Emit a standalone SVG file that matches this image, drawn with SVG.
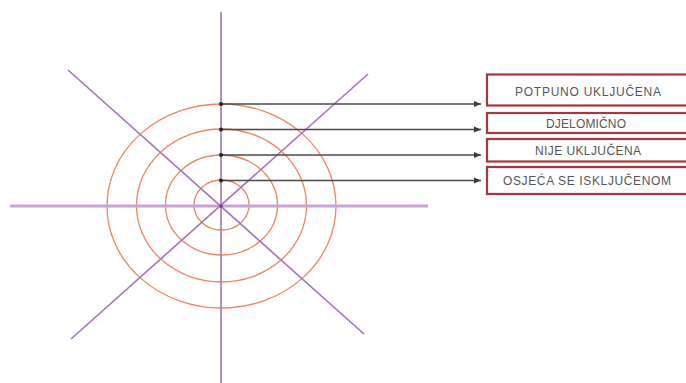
<svg xmlns="http://www.w3.org/2000/svg" width="686" height="383" viewBox="0 0 686 383">
<style>
.axis{stroke:#A673B8;stroke-width:1.6;fill:none}
.axis-h{stroke:#C9A3D3;stroke-width:3;fill:none}
.ring{stroke:#F2845F;stroke-width:1.3;fill:none}
.conn{stroke:#4A4A4A;stroke-width:1.4;fill:none}
.box{fill:#FFFFFF;stroke:#A4393D;stroke-width:2.2}
.lbl{font-family:"Liberation Sans",Arial,sans-serif;font-size:12px;fill:#555555;text-anchor:middle}
</style>
<defs>
<marker id="arr" markerWidth="8" markerHeight="8" refX="7" refY="4" orient="auto" markerUnits="userSpaceOnUse">
<path d="M0,1 L7,4 L0,7 Z" fill="#3A3A3A"/>
</marker>
<marker id="dot" markerWidth="6" markerHeight="6" refX="3" refY="3" markerUnits="userSpaceOnUse">
<circle cx="3" cy="3" r="2" fill="#222"/>
</marker>
</defs>
<rect width="686" height="383" fill="#FFFFFF"/>
<g id="rings">
<ellipse class="ring" cx="221.5" cy="206" rx="114.5" ry="102"/>
<ellipse class="ring" cx="221.5" cy="205.5" rx="85" ry="76.5"/>
<ellipse class="ring" cx="221.5" cy="205" rx="56" ry="50"/>
<ellipse class="ring" cx="221.5" cy="205" rx="27.5" ry="25"/>
</g>
<g id="axes">
<line class="axis-h" x1="10" y1="206" x2="428" y2="206"/>
<line class="axis" x1="68" y1="70" x2="364" y2="334"/>
<line class="axis" x1="368" y1="74" x2="71" y2="339"/>
<line class="axis" x1="221" y1="12" x2="221" y2="383"/>
<circle cx="221" cy="206" r="1.8" fill="#7A3C8F"/>
</g>
<g id="connectors">
<line class="conn" x1="221" y1="104" x2="481" y2="104" marker-start="url(#dot)" marker-end="url(#arr)"/>
<line class="conn" x1="221" y1="129.5" x2="481" y2="129.5" marker-start="url(#dot)" marker-end="url(#arr)"/>
<line class="conn" x1="221" y1="155" x2="481" y2="155" marker-start="url(#dot)" marker-end="url(#arr)"/>
<line class="conn" x1="221" y1="180.5" x2="481" y2="180.5" marker-start="url(#dot)" marker-end="url(#arr)"/>
</g>
<g id="box1">
<rect class="box" x="487" y="74.5" width="210" height="31"/>
<text class="lbl" x="588" y="96" textLength="146" lengthAdjust="spacing">POTPUNO UKLJUČENA</text>
</g>
<g id="box2">
<rect class="box" x="487" y="113" width="210" height="20"/>
<text class="lbl" x="586" y="127.5" textLength="80" lengthAdjust="spacing">DJELOMIČNO</text>
</g>
<g id="box3">
<rect class="box" x="487" y="139" width="210" height="22.5"/>
<text class="lbl" x="588" y="154.5" textLength="106" lengthAdjust="spacing">NIJE UKLJUČENA</text>
</g>
<g id="box4">
<rect class="box" x="487" y="167" width="210" height="27"/>
<text class="lbl" x="587" y="184.5" textLength="168" lengthAdjust="spacing">OSJEĆA SE ISKLJUČENOM</text>
</g>
</svg>
